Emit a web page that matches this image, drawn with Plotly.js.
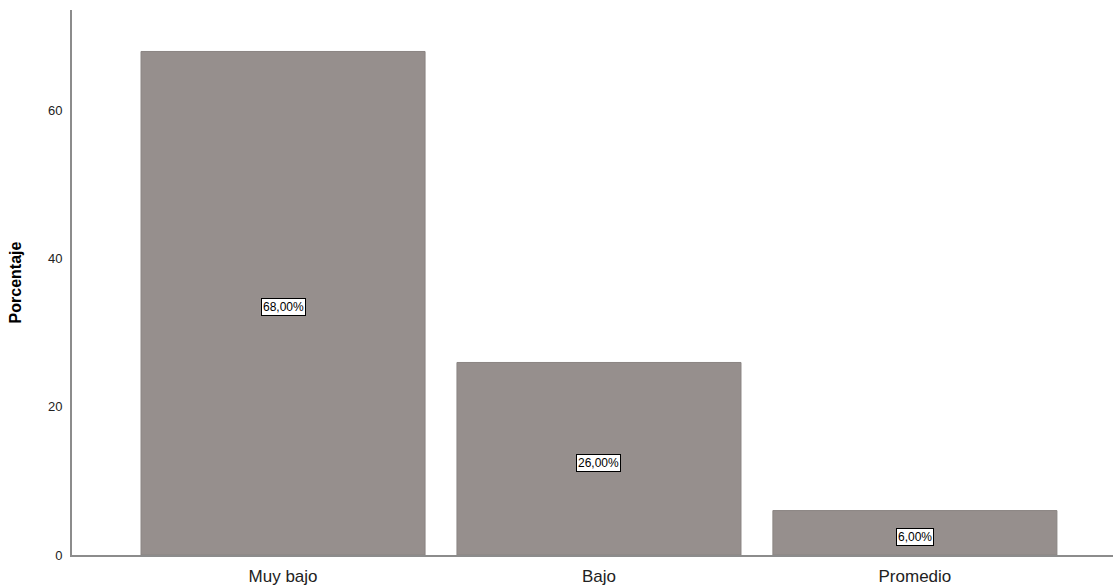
<!DOCTYPE html>
<html>
<head>
<meta charset="utf-8">
<script src="https://cdn.plot.ly/plotly-3.0.1.min.js"></script>
<style>html,body{margin:0;padding:0;background:#fff;}#chart{width:1114px;height:587px;}</style>
</head>
<body>
<div id="chart"></div>
<script>
const categories = ["Muy bajo", "Bajo", "Promedio"];
const percentages = [68, 26, 6];
const labels = ["68,00%", "26,00%", "6,00%"];
const yTicks = [0, 20, 40, 60];

const trace = {
  type: "bar",
  x: categories,
  y: percentages,
  marker: {color: "#968f8d", line: {color: "#8a8482", width: 1}},
  hoverinfo: "skip"
};

const annotations = categories.map((c, i) => ({
  x: c, y: percentages[i] / 2, xref: "x", yref: "y",
  text: labels[i], showarrow: false,
  font: {family: "Liberation Sans, Arial, sans-serif", size: 12, color: "#000"},
  bgcolor: "#ffffff", bordercolor: "#000000", borderwidth: 1, borderpad: 1,
  yshift: -4
}));

const layout = {
  width: 1114, height: 587,
  margin: {l: 72, r: 1, t: 10, b: 32},
  paper_bgcolor: "#fff", plot_bgcolor: "#fff",
  bargap: 0.101,
  showlegend: false,
  xaxis: {
    range: [-0.668, 2.627],
    showgrid: false, zeroline: false,
    showline: true, linecolor: "#8c8c8c", linewidth: 2,
    ticks: "",
    tickfont: {family: "Liberation Sans, Arial, sans-serif", size: 17, color: "#222"},
    ticklabelstandoff: 5
  },
  yaxis: {
    range: [0, 73.6],
    tickvals: yTicks, ticktext: yTicks.map(String),
    showgrid: false, zeroline: false,
    showline: true, linecolor: "#8c8c8c", linewidth: 2,
    ticks: "",
    tickfont: {family: "Liberation Sans, Arial, sans-serif", size: 13, color: "#222"},
    ticklabelstandoff: 5,
    title: {text: "<b>Porcentaje</b>", font: {family: "Liberation Sans, Arial, sans-serif", size: 16, color: "#000"}, standoff: 22}
  },
  annotations: annotations
};

Plotly.newPlot("chart", [trace], layout, {displayModeBar: false, staticPlot: true});
</script>
</body>
</html>
